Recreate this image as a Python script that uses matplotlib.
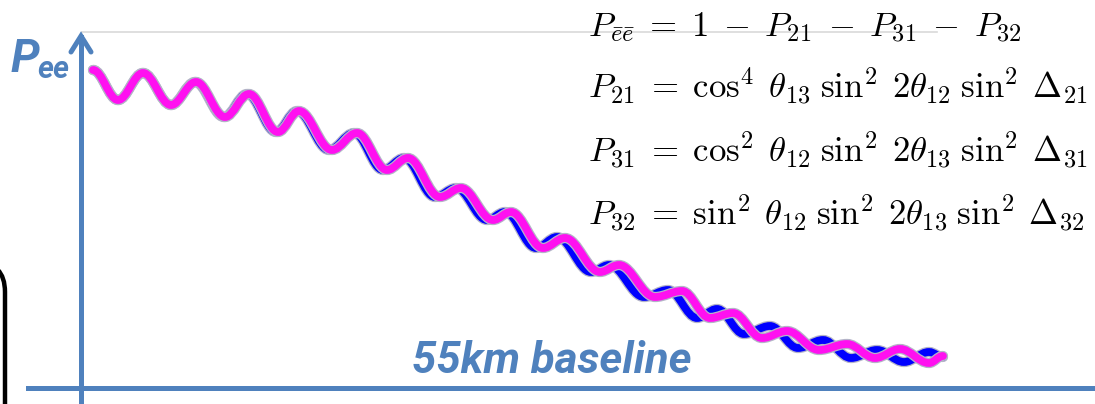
import matplotlib
matplotlib.use("Agg")
from matplotlib import pyplot as plt
from matplotlib.path import Path
from matplotlib.patches import PathPatch
import matplotlib.patheffects as pe

plt.rcParams['mathtext.fontset'] = 'cm'

# экстремумы волн (x, y в пикселях картинки)
magenta_x = [93, 118, 143, 171, 196, 225, 249, 278, 299, 332, 357, 387, 408, 440, 461,
             493, 511, 543, 565, 600, 619, 655, 682, 710, 733, 762, 787, 819, 847, 875,
             900, 929, 943]
magenta_y = [70, 100, 73, 105, 82, 117, 94, 132, 111, 150, 133, 170, 158, 197, 188,
             220, 212, 248, 238, 272, 265, 297, 291, 318, 313, 338, 331, 350, 344, 358,
             349, 363, 356]

blue_x = [93, 118, 143, 171, 195, 224, 247, 276, 297, 329, 354, 383, 404, 435, 456,
          487, 505, 536, 557, 591, 609, 644, 668, 697, 717, 744, 770, 798, 823, 851,
          877, 904, 929, 943]
blue_y = [70, 100, 73, 105, 82, 117, 94, 132, 111, 150, 133, 170, 158, 197, 188,
          220, 212, 248, 237, 272, 265, 297, 290, 318, 309, 334, 326, 348, 340, 358,
          350, 362, 352, 357]

formulas = [
    r'$P_{\bar{e}\bar{e}}\;=\;1\;-\;P_{21}\;-\;P_{31}\;-\;P_{32}$',
    r'$P_{21}\;=\;\cos^4\;\theta_{13}\;\sin^2\;2\theta_{12}\;\sin^2\;\Delta_{21}$',
    r'$P_{31}\;=\;\cos^2\;\theta_{12}\;\sin^2\;2\theta_{13}\;\sin^2\;\Delta_{31}$',
    r'$P_{32}\;=\;\sin^2\;\theta_{12}\;\sin^2\;2\theta_{13}\;\sin^2\;\Delta_{32}$',
]
formula_y = [37, 98, 162, 225]

axis_color = '#4f81bd'


def wave_path(xs, ys, k=0.37):
    verts = [(xs[0], ys[0])]
    codes = [Path.MOVETO]
    for i in range(1, len(xs)):
        dx = xs[i] - xs[i - 1]
        verts += [(xs[i - 1] + k * dx, ys[i - 1]), (xs[i] - k * dx, ys[i]), (xs[i], ys[i])]
        codes += [Path.CURVE4] * 3
    return Path(verts, codes)


fig = plt.figure(figsize=(10.95, 4.04), dpi=100)
ax = fig.add_axes([0, 0, 1, 1])
ax.set_xlim(0, 1095)
ax.set_ylim(404, 0)
ax.axis('off')

# тонкая серая линия сверху
ax.plot([82, 937], [32, 32], color='#d9d9d9', lw=1.2, zorder=1)

# чёрный край скруглённой рамки слева
edge = Path([(-25, 262), (5, 262), (5, 292), (5, 410)],
            [Path.MOVETO, Path.CURVE3, Path.CURVE3, Path.LINETO])
ax.add_patch(PathPatch(edge, fill=False, edgecolor='black', lw=3.2, zorder=2))

# оси
ax.plot([81, 81], [410, 37], color=axis_color, lw=3.6, zorder=3)
ax.plot([71, 81, 91], [52, 36, 52], color=axis_color, lw=3.6,
        solid_capstyle='round', solid_joinstyle='miter', zorder=3)
ax.plot([28, 1100], [388, 388], color=axis_color, lw=3.6, zorder=3)

# волны
halo = [pe.Stroke(linewidth=7.4, foreground='#b4b4c8'), pe.Normal()]
ax.add_patch(PathPatch(wave_path(blue_x, blue_y), fill=False, edgecolor='#0000ff',
                       lw=5.6, capstyle='round', zorder=4, path_effects=halo))
ax.add_patch(PathPatch(wave_path(magenta_x, magenta_y), fill=False, edgecolor='#ff10f0',
                       lw=5.6, capstyle='round', zorder=5, path_effects=halo))

# подписи
ax.text(11, 72, 'P', color=axis_color, fontsize=33, fontfamily='Roboto',
        fontweight='bold', fontstyle='italic', va='baseline', ha='left', zorder=6)
ax.text(37, 78, 'ee', color=axis_color, fontsize=22, fontfamily='Roboto',
        fontweight='bold', fontstyle='italic', va='baseline', ha='left', zorder=6)
ax.text(412, 373, '55km baseline', color=axis_color, fontsize=31.5, fontfamily='Roboto',
        fontweight='bold', fontstyle='italic', va='baseline', ha='left', zorder=6)

for f, y in zip(formulas, formula_y):
    ax.text(588, y, f, fontsize=25, color='black', va='baseline', ha='left', zorder=6)

fig.savefig('out.png', dpi=100)
